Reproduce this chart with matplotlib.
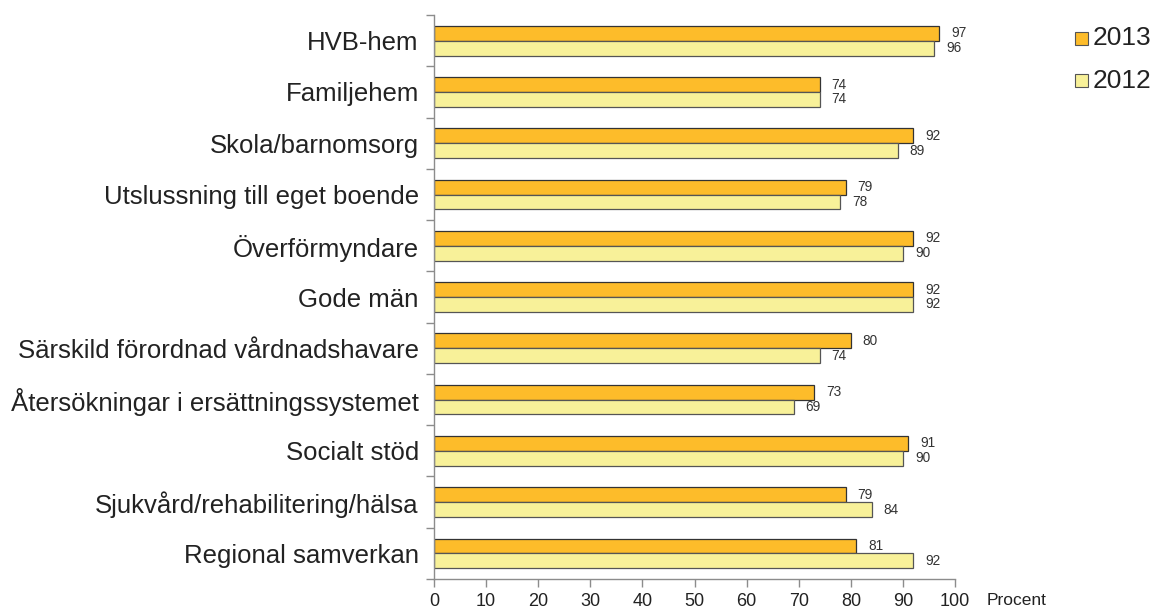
import numpy as np
import matplotlib
matplotlib.use("Agg")
import matplotlib.pyplot as plt
from matplotlib.patches import Rectangle

plt.rcParams['font.family'] = ['Liberation Sans', 'DejaVu Sans']

categories = ['HVB-hem', 'Familjehem', 'Skola/barnomsorg', 'Utslussning till eget boende',
              'Överförmyndare', 'Gode män', 'Särskild förordnad vårdnadshavare',
              'Återsökningar i ersättningssystemet', 'Socialt stöd',
              'Sjukvård/rehabilitering/hälsa', 'Regional samverkan']
vals_2013 = [97, 74, 92, 79, 92, 92, 80, 73, 91, 79, 81]
vals_2012 = [96, 74, 89, 78, 90, 92, 74, 69, 90, 84, 92]
xticks = list(range(0, 101, 10))

c2013 = '#FDBC2A'
c2012 = '#F8F199'
axis_col = '#8C8C8C'

fig = plt.figure(figsize=(11.59, 6.10), dpi=100)
ax = fig.add_axes([0.3745, 0.0508, 0.4495, 0.9245])

n = len(categories)
y = np.arange(n)
h = 0.29
ax.barh(y - h / 2, vals_2013, height=h, color=c2013, edgecolor='#333333', linewidth=0.9)
ax.barh(y + h / 2, vals_2012, height=h, color=c2012, edgecolor='#555555', linewidth=0.9)

for i in range(n):
    ax.text(vals_2013[i] + 2.3, y[i] - h / 2, str(vals_2013[i]), va='center', ha='left',
            fontsize=9.8, color='#333333')
    ax.text(vals_2012[i] + 2.3, y[i] + h / 2, str(vals_2012[i]), va='center', ha='left',
            fontsize=9.8, color='#333333')

ax.set_ylim(n - 0.5, -0.5)
ax.set_xlim(0, 100)
ax.set_xticks(xticks)
ax.set_xticklabels([str(t) for t in xticks], fontsize=13)
ax.set_yticks(np.arange(n + 1) - 0.5)
ax.set_yticklabels([])
ax.set_yticks(y, minor=True)
ax.set_yticklabels(categories, minor=True, fontsize=18.5, color='#222222')
ax.tick_params(axis='y', which='minor', length=0, pad=11)
ax.tick_params(axis='y', which='major', length=6, color=axis_col, width=1)
ax.tick_params(axis='x', length=6, color=axis_col, width=1, pad=4, labelcolor='#222222')

for s in ['top', 'right']:
    ax.spines[s].set_visible(False)
for s in ['left', 'bottom']:
    ax.spines[s].set_color(axis_col)
    ax.spines[s].set_linewidth(1)

fig.text(0.851, 0.003, 'Procent', fontsize=12.5, color='#222222', ha='left', va='bottom')

# legend
for ypos, col, lab in [(0.937, c2013, '2013'), (0.868, c2012, '2012')]:
    fig.patches.append(Rectangle((0.9275, ypos - 0.011), 0.0112, 0.0215, transform=fig.transFigure,
                                 facecolor=col, edgecolor='#555555', linewidth=0.8))
    fig.text(0.943, ypos, lab, fontsize=19, color='#222222', ha='left', va='center')

fig.savefig('out.png', dpi=100)
